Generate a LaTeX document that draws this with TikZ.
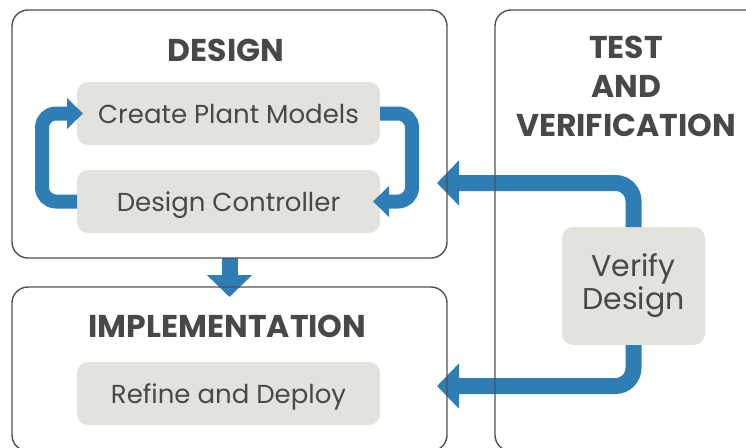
\documentclass[tikz,border=0pt]{standalone}
\usepackage{fontspec}
\setmainfont{Poppins}
\usepackage{tikz}
\usetikzlibrary{shapes,arrows,arrows.meta}
\usepackage{xcolor}
\definecolor{flowblue}{HTML}{2E7DB5}
\definecolor{boxgray}{HTML}{E3E2DD}
\definecolor{inkgray}{HTML}{484848}
\definecolor{framegray}{HTML}{505050}
\pgfdeclarelayer{front}
\pgfsetlayers{main,front}

\begin{document}
\begin{tikzpicture}[x=1pt,y=-1pt,
    frame/.style={draw=framegray, line width=1.4pt, rounded corners=16pt, inner sep=0pt, outer sep=0pt},
    task/.style={fill=boxgray, rounded corners=11pt, inner sep=0pt, outer sep=0pt, text=inkgray, font=\fontsize{26}{33}\selectfont, align=center},
    title/.style={text=inkgray, font=\fontsize{31.5}{39}\selectfont\bfseries, align=center, inner sep=0pt},
    loopflow/.style={draw=flowblue, line width=14pt, rounded corners=14pt, -{Triangle[width=30pt,length=16pt]}},
    mainflow/.style={draw=flowblue, line width=16pt, rounded corners=18pt, -{Triangle[width=44pt,length=22pt]}}]
     \path[use as bounding box, clip] (0,0) rectangle (746,447);
     \begin{pgfonlayer}{front}
     \node [frame, minimum width=435pt, minimum height=248pt] (design) at (229.5,134) {};
     \node [frame, minimum width=435pt, minimum height=164pt] (impl) at (229.5,369) {};
     \node [frame, minimum width=275pt, minimum height=441pt] (test) at (632.5,230.5) {};
     \end{pgfonlayer}
     \node [title] (designtitle) at (226,50) {DESIGN};
     \node [title] (impltitle) at (227.5,326) {IMPLEMENTATION};
     \node [title] (testtitle) at (626,86) {TEST\\AND\\VERIFICATION};
     \node [task, minimum width=303pt, minimum height=63pt] (cpm) at (228.5,113.5) {Create Plant Models};
     \node [task, minimum width=303pt, minimum height=63pt, text depth=0pt] (dc) at (228.5,201.5) {Design Controller};
     \node [task, minimum width=303pt, minimum height=63pt, text depth=0pt] (rad) at (228.5,393.5) {Refine and Deploy};
     \node [task, minimum width=143pt, minimum height=118pt, font=\fontsize{30}{33}\selectfont] (vd) at (633.5,286) {Verify\\Design};
     \coordinate (dcin) at (437,183);
     \coordinate (radin) at (437,386);
     \draw [loopflow, shorten >=-6pt] (dc.west) -- ++(-35,0) |- (cpm.west);
     \draw [loopflow, shorten >=-7pt] (cpm.east) -- ++(32,0) |- (dc.east);
     \draw [mainflow] (vd.north) |- (dcin);
     \draw [mainflow] (vd.south) |- (radin);
     \draw [mainflow, shorten >=-10pt] (design.south) -- (impl.north);
\end{tikzpicture}
\end{document}
